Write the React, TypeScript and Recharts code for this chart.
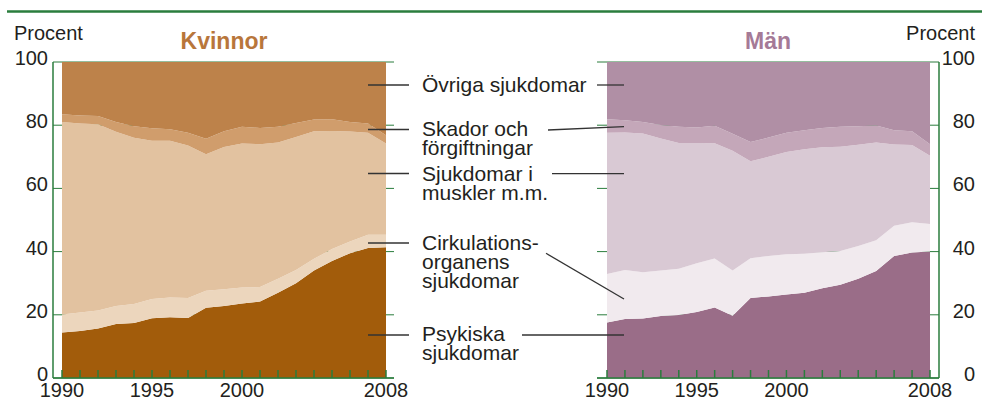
import React from "react";
import { AreaChart, Area, XAxis, YAxis, CartesianGrid } from "recharts";

const YEARS = [1990, 1991, 1992, 1993, 1994, 1995, 1996, 1997, 1998, 1999, 2000, 2001, 2002, 2003, 2004, 2005, 2006, 2007, 2008];
const YEAR_LABELS = [1990, 1995, 2000, 2008];
const Y_TICKS = [0, 20, 40, 60, 80, 100];

const CATEGORIES = ["Psykiska sjukdomar", "Cirkulationsorganens sjukdomar", "Sjukdomar i muskler m.m.", "Skador och förgiftningar", "Övriga sjukdomar"];

// Kvinnor, share in percent per year
const womenPsyk = [14.4, 14.9, 15.7, 17.1, 17.4, 18.9, 19.2, 19.0, 22.2, 22.8, 23.6, 24.2, 27.0, 30.0, 34.0, 37.0, 39.5, 41.1, 41.4];
const womenCirk = [5.7, 5.8, 5.7, 5.7, 6.0, 6.1, 6.3, 6.3, 5.4, 5.3, 5.0, 4.6, 4.4, 4.2, 3.7, 3.8, 3.7, 4.2, 3.9];
const womenMusk = [60.9, 59.8, 58.9, 55.1, 52.6, 50.1, 49.6, 48.3, 43.2, 45.0, 45.6, 45.2, 43.1, 42.1, 40.4, 37.4, 34.8, 32.3, 28.9];
const womenSkad = [2.5, 2.6, 2.6, 3.1, 3.7, 3.9, 3.6, 4.0, 4.9, 5.0, 5.3, 5.1, 5.0, 4.4, 3.7, 3.7, 3.0, 2.9, 2.6];
const womenOvr = [16.5, 16.9, 17.1, 19.0, 20.3, 21.0, 21.3, 22.4, 24.3, 21.9, 20.5, 20.9, 20.5, 19.3, 18.2, 18.1, 19.0, 19.5, 23.2];

// Män
const menPsyk = [17.6, 18.7, 18.8, 19.6, 19.9, 20.9, 22.3, 19.7, 25.3, 25.8, 26.4, 27.0, 28.4, 29.5, 31.4, 33.9, 38.6, 39.7, 40.0];
const menCirk = [15.3, 15.5, 14.7, 14.4, 14.7, 15.4, 15.5, 14.3, 12.6, 12.8, 12.8, 12.3, 11.4, 10.7, 10.4, 9.7, 9.6, 9.6, 8.7];
const menMusk = [44.7, 43.5, 43.9, 41.8, 39.8, 38.1, 36.5, 37.9, 30.7, 31.4, 32.3, 33.1, 33.2, 33.0, 32.0, 30.9, 25.7, 24.4, 21.6];
const menSkad = [4.3, 3.9, 3.6, 4.3, 5.1, 4.9, 5.5, 5.4, 6.1, 6.1, 6.1, 6.0, 6.1, 6.3, 5.9, 5.4, 4.5, 4.4, 3.7];
const menOvr = [18.1, 18.4, 19.0, 19.9, 20.5, 20.7, 20.2, 22.7, 25.3, 23.9, 22.4, 21.6, 20.9, 20.5, 20.3, 20.1, 21.6, 21.9, 26.0];

const WOMEN_COLORS = ["#a25c0b", "#ecd6bd", "#e2c2a0", "#d09d6c", "#bd824a"];
const MEN_COLORS = ["#9a6d88", "#f1eaee", "#d9c9d4", "#c4a7b9", "#b08fa5"];

const FONT = "'Liberation Sans', Arial, Helvetica, sans-serif";
const GREEN = "#2a7d3d";
const TEXT = "#231f20";

function buildRows(series: number[][]) {
  return YEARS.map((year, i) => {
    const row: Record<string, number> = { year };
    series.forEach((s, k) => (row["s" + k] = s[i]));
    return row;
  });
}

const womenRows = buildRows([womenPsyk, womenCirk, womenMusk, womenSkad, womenOvr]);
const menRows = buildRows([menPsyk, menCirk, menMusk, menSkad, menOvr]);

// eslint-disable-next-line @typescript-eslint/no-explicit-any
function XTick({ x, y, payload }: any) {
  const show = YEAR_LABELS.includes(payload.value);
  return (
    <g>
      <line x1={x} x2={x} y1={y} y2={y - 8} stroke={GREEN} strokeWidth={1.5} />
      {show && (
        <text x={x} y={y + 19} textAnchor="middle" fontFamily={FONT} fontSize={20} fill={TEXT}>
          {payload.value}
        </text>
      )}
    </g>
  );
}

function makeYTick(side: "left" | "right") {
  // eslint-disable-next-line @typescript-eslint/no-explicit-any
  return ({ x, y, payload }: any) => (
    <text
      x={side === "left" ? x - 5 : x + 36}
      y={y + 3}
      textAnchor="end"
      fontFamily={FONT}
      fontSize={20}
      fill={TEXT}
    >
      {payload.value}
    </text>
  );
}

function Panel({
  rows,
  colors,
  side,
}: {
  rows: Record<string, number>[];
  colors: string[];
  side: "left" | "right";
}) {
  const left = side === "left";
  return (
    <AreaChart
      width={left ? 420 : 422}
      height={406}
      data={rows}
      margin={left ? { top: 62, right: 26, left: 0, bottom: 0 } : { top: 62, right: 0, left: 37, bottom: 0 }}
    >
      <CartesianGrid horizontal vertical={false} stroke={GREEN} strokeWidth={1} />
      <XAxis
        dataKey="year"
        type="number"
        domain={[1990, 2008]}
        ticks={YEARS}
        interval={0}
        padding={left ? { left: 9, right: 8 } : { left: 10, right: 9 }}
        tickSize={0}
        tickMargin={0}
        height={28}
        axisLine={{ stroke: GREEN, strokeWidth: 1.5 }}
        tickLine={false}
        tick={XTick}
      />
      <YAxis
        orientation={side}
        domain={[0, 100]}
        ticks={Y_TICKS}
        interval={0}
        allowDataOverflow
        width={left ? 53 : 43}
        tickSize={0}
        tickMargin={0}
        axisLine={{ stroke: GREEN, strokeWidth: 1.5 }}
        tickLine={false}
        tick={makeYTick(side)}
      />
      {CATEGORIES.map((name, k) => (
        <Area
          key={name}
          name={name}
          type="linear"
          dataKey={"s" + k}
          stackId="a"
          stroke="none"
          fill={colors[k]}
          fillOpacity={1}
          isAnimationActive={false}
        />
      ))}
    </AreaChart>
  );
}

export default function App() {
  const lbl = { fontFamily: FONT, fontSize: 21, fill: TEXT };
  const ln = { stroke: "#333", strokeWidth: 1.3 };
  return (
    <div style={{ position: "absolute", left: 0, top: 0, width: 982, height: 406, background: "#fff" }}>
      <div style={{ position: "absolute", left: 0, top: 0 }}>
        <Panel rows={womenRows} colors={WOMEN_COLORS} side="left" />
      </div>
      <div style={{ position: "absolute", left: 560, top: 0 }}>
        <Panel rows={menRows} colors={MEN_COLORS} side="right" />
      </div>
      <svg width={982} height={406} style={{ position: "absolute", left: 0, top: 0, pointerEvents: "none" }}>
        <line x1={7} x2={982} y1={11.5} y2={11.5} stroke={GREEN} strokeWidth={2.5} />
        <text x={14} y={40} fontFamily={FONT} fontSize={20} fill={TEXT}>Procent</text>
        <text x={975} y={40} textAnchor="end" fontFamily={FONT} fontSize={20} fill={TEXT}>Procent</text>
        <text x={224} y={49} textAnchor="middle" fontFamily={FONT} fontSize={23} fontWeight="bold" fill="#b8763b">Kvinnor</text>
        <text x={768} y={49} textAnchor="middle" fontFamily={FONT} fontSize={23} fontWeight="bold" fill="#a57a97">Män</text>

        <text x={422} y={92} {...lbl}>Övriga sjukdomar</text>
        <text x={422} y={136} {...lbl}>Skador och</text>
        <text x={422} y={155} {...lbl}>förgiftningar</text>
        <text x={422} y={181} {...lbl}>Sjukdomar i</text>
        <text x={422} y={200} {...lbl}>muskler m.m.</text>
        <text x={422} y={250} {...lbl}>Cirkulations-</text>
        <text x={422} y={269} {...lbl}>organens</text>
        <text x={422} y={288} {...lbl}>sjukdomar</text>
        <text x={422} y={341} {...lbl}>Psykiska</text>
        <text x={422} y={360} {...lbl}>sjukdomar</text>

        <line x1={368} x2={409} y1={85} y2={85} {...ln} />
        <line x1={368} x2={409} y1={129.5} y2={129.5} {...ln} />
        <line x1={368} x2={409} y1={173.5} y2={173.5} {...ln} />
        <line x1={368} x2={409} y1={243} y2={243} {...ln} />
        <line x1={368} x2={409} y1={335} y2={335} {...ln} />

        <line x1={597} x2={624} y1={85} y2={85} {...ln} />
        <line x1={548} x2={624} y1={130} y2={126.7} {...ln} />
        <line x1={552} x2={624} y1={173.7} y2={173.7} {...ln} />
        <line x1={546} x2={624} y1={253.3} y2={299} {...ln} />
        <line x1={522} x2={624} y1={335} y2={335} {...ln} />
      </svg>
    </div>
  );
}
